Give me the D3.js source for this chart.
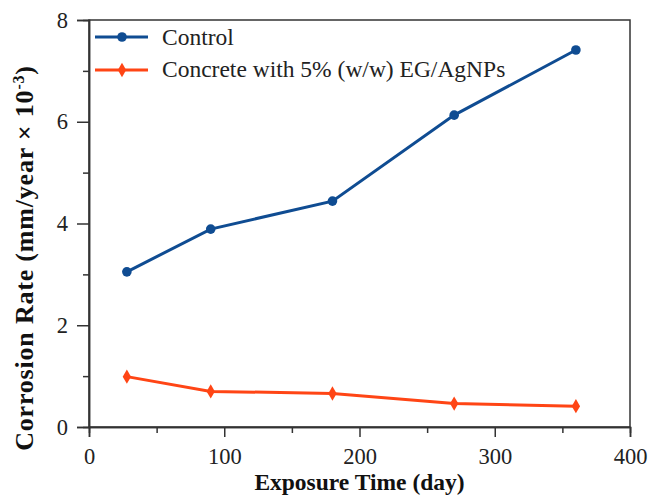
<!DOCTYPE html>
<html><head><meta charset="utf-8">
<script src="https://cdn.jsdelivr.net/npm/d3@7"></script>
<style>body{margin:0;background:#fff}svg{display:block}</style>
</head><body>
<svg id="c" width="649" height="499"></svg>
<script>
const days = [28, 90, 180, 270, 360];
const control = [3.05, 3.89, 4.44, 6.13, 7.41];
const egAgNPs = [0.99, 0.70, 0.66, 0.46, 0.41];
const seriesNames = ["Control", "Concrete with 5% (w/w) EG/AgNPs"];
const xTicks = [0, 100, 200, 300, 400];
const yTicks = [0, 2, 4, 6, 8];

const svg = d3.select("#c");
const L = 89, R = 630, T = 20, B = 427;
const x = d3.scaleLinear().domain([0, 400]).range([L, R]);
const y = d3.scaleLinear().domain([0, 8]).range([B, T]);
const font = "'Liberation Serif','Times New Roman',serif";
const axisCol = "#333";

// frame
svg.append("rect").attr("x", L).attr("y", T).attr("width", R - L).attr("height", B - T)
  .attr("fill", "none").attr("stroke", axisCol).attr("stroke-width", 1.5);

// x axis
const xa = svg.append("g").attr("transform", `translate(0,${B})`)
  .call(d3.axisBottom(x).tickValues(xTicks).tickSize(10).tickPadding(11).tickFormat(d3.format("d")));
xa.append("g").call(d3.axisBottom(x).tickValues([50,150,250,350]).tickSize(6).tickFormat(""));
// y axis
const ya = svg.append("g").attr("transform", `translate(${L},0)`)
  .call(d3.axisLeft(y).tickValues(yTicks).tickSize(12).tickPadding(9).tickFormat(d3.format("d")));
ya.append("g").call(d3.axisLeft(y).tickValues([1,3,5,7]).tickSize(6).tickFormat(""));
svg.selectAll(".domain").attr("stroke", axisCol).attr("stroke-width", 1.5);
svg.selectAll(".tick line").attr("stroke", axisCol).attr("stroke-width", 1.5);
svg.selectAll(".tick text").attr("font-family", font).attr("font-size", 22.5).attr("fill", "#222");

// axis titles
svg.append("text").attr("x", (L + R) / 2).attr("y", 490).attr("text-anchor", "middle")
  .attr("font-family", font).attr("font-weight", "bold").attr("font-size", 23.5).attr("fill", "#111")
  .text("Exposure Time (day)");
const yt = svg.append("text").attr("transform", `translate(33,258) rotate(-90)`)
  .attr("text-anchor", "middle").attr("font-family", font).attr("font-weight", "bold")
  .attr("font-size", 26).attr("letter-spacing", 0.8).attr("fill", "#111");
yt.append("tspan").text("Corrosion Rate (mm/year × 10");
yt.append("tspan").attr("dy", -9).attr("font-size", 16).text("-3");
yt.append("tspan").attr("dy", 9).text(")");

const colors = ["#0f4c92", "#ff4515"];
const data = [control, egAgNPs];
const line = d3.line().x((d, i) => x(days[i])).y(d => y(d));

data.forEach((vals, k) => {
  svg.append("path").datum(vals).attr("d", line).attr("fill", "none")
    .attr("stroke", colors[k]).attr("stroke-width", 3);
  if (k === 0) {
    svg.selectAll(null).data(vals).enter().append("circle")
      .attr("cx", (d, i) => x(days[i])).attr("cy", d => y(d)).attr("r", 4.8).attr("fill", colors[k]);
  } else {
    svg.selectAll(null).data(vals).enter().append("path")
      .attr("d", d3.symbol(d3.symbolDiamond, 60))
      .attr("transform", (d, i) => `translate(${x(days[i])},${y(d)})`).attr("fill", colors[k]);
  }
});

// legend
const ly = [37, 70];
const lb = [45, 77];
seriesNames.forEach((name, k) => {
  svg.append("line").attr("x1", 95).attr("x2", 148).attr("y1", ly[k]).attr("y2", ly[k])
    .attr("stroke", colors[k]).attr("stroke-width", 3);
  if (k === 0) svg.append("circle").attr("cx", 122).attr("cy", ly[k]).attr("r", 4.8).attr("fill", colors[k]);
  else svg.append("path").attr("d", d3.symbol(d3.symbolDiamond, 60)).attr("transform", `translate(122,${ly[k]})`).attr("fill", colors[k]);
  svg.append("text").attr("x", 162).attr("y", lb[k]).attr("font-family", font)
    .attr("font-size", 23.5).attr("fill", "#222").text(name);
});
</script>
</body></html>
